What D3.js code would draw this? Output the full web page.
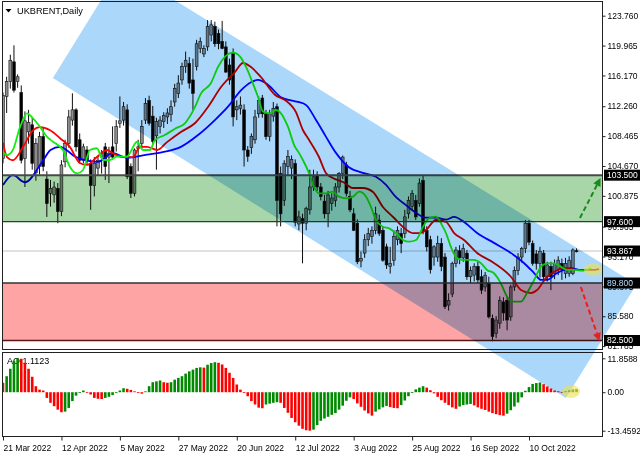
<!DOCTYPE html>
<html><head><meta charset="utf-8">
<script src="https://cdn.jsdelivr.net/npm/d3@7"></script>
<style>
body{margin:0;background:#fff}
svg{display:block}
text{font-family:"Liberation Sans",Arial,sans-serif}
</style>
</head><body>
<svg id="c" width="640" height="457"></svg>
<script>
// ---------------- DATA ----------------
const open  = [105.6,113.5,115.4,117.9,115.4,114.0,105.6,109.0,109.9,103.8,104.6,108.4,103.0,101.2,101.0,101.8,98.9,105.2,107.5,110.5,111.8,108.0,105.4,106.7,105.0,102.2,104.4,105.8,107.1,105.8,107.1,107.5,110.1,110.5,111.8,104.6,101.2,106.9,107.5,110.5,113.0,111.0,108.5,109.7,110.3,110.9,111.2,112.8,113.9,115.6,117.3,117.7,115.6,117.3,119.6,118.9,119.8,121.3,122.4,121.5,120.5,119.8,117.5,119.0,111.8,112.0,111.8,106.7,107.0,108.0,111.3,113.3,111.3,108.4,111.0,112.2,103.7,100.3,104.6,104.4,105.0,97.3,98.0,97.4,99.1,102.0,103.5,102.0,100.2,98.6,99.9,100.3,102.0,103.7,104.8,100.8,98.6,97.4,92.6,93.6,95.3,95.7,96.5,97.8,96.5,94.4,91.9,92.7,95.3,96.1,96.1,98.6,99.5,100.3,99.9,102.8,96.5,95.3,93.1,93.1,94.8,93.1,87.0,88.4,92.3,93.9,93.0,93.6,90.6,90.8,91.9,90.6,89.3,89.8,85.3,83.4,84.7,87.4,87.6,85.5,89.3,91.4,93.1,94.2,97.4,94.8,93.5,92.3,93.6,90.6,91.9,91.0,91.5,92.3,91.0,91.0,91.0,93.9];
const high  = [114.0,116.0,118.8,120.0,116.3,114.9,111.6,111.8,110.8,108.2,109.0,109.5,104.0,102.9,102.7,102.5,105.4,108.0,111.8,113.9,112.0,108.8,107.5,107.2,105.5,105.8,106.0,106.7,107.6,107.1,109.7,110.5,113.5,112.8,112.5,105.0,106.9,108.0,110.5,113.3,113.6,112.3,110.8,111.0,111.5,112.0,113.0,115.1,116.2,117.8,119.2,118.5,118.3,120.7,121.0,120.0,123.2,123.2,123.0,122.0,123.1,120.5,118.3,119.6,113.0,113.5,112.5,107.2,108.8,111.8,113.5,113.7,111.8,111.8,112.8,112.6,104.6,105.4,106.7,106.0,105.5,99.0,98.6,99.5,104.2,104.2,104.0,102.5,101.0,101.5,101.2,102.5,103.9,106.0,105.2,101.5,99.3,97.9,93.8,96.0,96.8,97.0,99.5,98.5,97.0,94.8,94.4,96.5,97.0,96.8,99.1,100.8,101.6,101.0,103.1,103.4,97.0,95.8,94.6,95.8,95.5,93.6,88.5,92.5,94.4,94.6,94.8,94.0,91.9,92.3,92.5,91.5,91.2,90.6,85.8,85.6,88.1,88.0,88.0,89.6,91.9,93.6,94.4,97.8,97.8,95.2,94.0,94.4,94.0,92.5,92.5,92.8,93.2,92.9,93.0,93.2,94.2,94.2];
const low   = [105.0,111.4,114.5,114.0,114.6,105.0,102.0,107.5,104.2,102.8,103.6,104.0,98.2,99.5,100.0,97.4,98.3,104.5,107.0,109.8,106.5,105.0,105.0,104.9,99.1,100.8,103.5,103.7,102.9,102.5,105.5,106.5,109.5,109.8,103.0,100.6,100.8,104.0,106.8,110.0,109.8,107.3,104.2,108.8,109.5,110.0,110.3,112.2,113.3,115.0,116.5,114.5,111.8,116.8,119.0,118.5,119.3,120.5,119.8,119.5,119.5,116.5,115.0,109.7,110.5,111.2,104.6,105.2,106.2,107.5,110.8,110.8,108.0,107.8,110.3,97.0,97.0,99.6,103.5,103.0,97.0,96.5,92.3,96.5,98.5,101.5,101.5,100.3,98.0,96.9,99.0,99.5,101.3,103.0,100.8,98.8,96.4,92.2,91.8,93.0,94.5,94.8,96.0,95.8,92.5,91.6,91.0,92.0,94.6,93.6,95.5,98.0,99.0,97.8,99.5,96.0,93.8,91.0,92.0,92.5,91.3,86.5,86.3,88.0,91.8,92.2,92.5,90.2,89.8,90.0,89.8,88.4,88.7,85.3,82.4,82.8,84.0,85.0,83.8,85.0,88.8,90.8,92.4,93.6,94.6,92.0,91.5,90.5,90.2,90.0,88.9,90.3,90.8,90.2,90.4,90.6,90.8,93.7];
const close = [113.6,115.4,118.1,114.3,116.0,105.4,110.4,110.2,105.0,107.5,108.4,104.6,99.9,101.8,102.0,98.9,104.8,107.5,110.9,111.8,107.1,105.4,107.1,105.4,102.2,105.0,105.4,106.3,104.6,106.3,105.8,109.7,110.4,112.2,103.3,101.2,106.7,107.1,109.7,112.6,110.1,107.8,110.3,110.5,111.1,111.4,112.2,114.5,115.2,117.3,118.1,115.2,113.9,120.2,120.5,119.6,122.4,122.6,120.2,120.2,119.6,116.6,115.6,110.9,112.2,112.4,106.7,105.9,108.4,110.9,113.0,111.3,108.4,111.3,112.0,100.3,98.6,105.0,105.9,105.5,97.5,98.2,97.4,99.3,102.0,103.3,102.0,100.8,98.6,101.0,100.6,102.0,103.7,105.8,101.2,99.1,96.5,92.5,92.9,95.3,96.1,96.5,98.6,96.1,92.7,92.1,92.3,95.7,96.5,94.8,98.2,100.3,101.2,98.2,102.5,96.5,94.4,91.5,94.4,94.8,91.9,86.8,87.6,92.3,94.0,93.0,94.2,90.6,91.4,91.9,90.2,88.9,90.8,85.5,83.0,85.1,87.6,86.0,85.1,89.3,91.4,93.1,94.2,97.4,95.0,92.3,92.3,93.8,90.6,92.1,90.6,92.3,92.7,91.5,92.3,92.7,94.0,93.867];

// Alligator lines: [bar index, price]
const jaw = [[0,102.25],[2.7,103.5],[6,102.6],[11,105.4],[13,106.7],[15.6,107.1],[20,105.8],[26,105.2],[30,106.3],[34,105.7],[39.4,106.1],[44,106.45],[48.7,107.1],[53.4,108.6],[58,110.5],[61.6,112.2],[65.2,114.3],[67.9,115.3],[69.8,115.6],[72.5,115.0],[76.1,113.4],[78.8,113.0],[80.8,112.8],[83,112.4],[85.7,110.5],[88.4,108.4],[91.2,106.3],[94.7,104.5],[98.5,103.8],[102.1,103.3],[104.8,102.3],[107.6,100.7],[110.3,99.7],[113.1,98.7],[115.8,98.1],[118.5,98.1],[121.3,97.85],[123.5,98.2],[126.2,97.55],[129.8,96.15],[134.4,94.9],[139.1,93.6],[142.6,92.35],[145.4,91.07],[147.3,90.19],[148.9,90.19],[151.7,91.07],[155.5,91.7],[158.2,91.46],[159,91.46]];
const teeth = [[0,107.6],[1.1,105.8],[2.7,105.4],[5.5,107.1],[8.2,109.2],[10.1,109.6],[12.9,109.2],[15.6,108.2],[18.3,107.1],[21,105.05],[23,104.8],[25.7,105.8],[28.5,106.7],[30,106.3],[32.8,105.8],[35.6,105.8],[37.5,107.1],[39.4,107.1],[42.2,106.7],[44.9,107.7],[48.7,108.99],[52.6,110.13],[56.1,112.16],[59.7,114.7],[63.5,116.6],[65.7,117.75],[67.9,117.24],[70.6,115.97],[74.5,113.69],[77.2,113.05],[80.2,111.5],[82.1,109.24],[83.8,107.97],[86.5,105.81],[88.4,103.78],[90.3,103.14],[93.1,102.63],[95.8,101.87],[98.5,101.87],[101.3,101.36],[104,99.46],[106.8,98.19],[109.5,96.92],[112.2,96.15],[113.9,96.15],[115.8,96.54],[118.5,97.81],[121.3,97.55],[123.5,96.15],[126.2,95.27],[129.8,93.62],[134.4,92.35],[139.1,90.57],[141.8,88.92],[144.5,88.53],[146.2,88.92],[148.9,90.57],[150.8,91.2],[153.6,91.71],[157.1,91.46],[161,91.46],[163.2,91.58]];
const lips = [[0,106.4],[1.1,106.06],[2.7,106.7],[4.7,109.66],[6.6,111.36],[8.2,110.72],[10.1,109.66],[12,108.4],[13.7,107.75],[16.4,106.7],[18.3,104.58],[20.3,103.74],[21.9,104.16],[23.8,106.7],[25.7,106.92],[27.4,105.43],[29.3,105.43],[31.2,105.85],[33.9,105.85],[36.7,107.75],[38.3,106.7],[40.2,106.7],[41.6,107.97],[44.3,108.6],[47.1,109.4],[49.8,110.09],[52.6,112.2],[54.2,113.9],[56.9,115.17],[58.9,117.28],[60.8,118.55],[63,119.06],[64.9,118.55],[66.5,117.28],[68.4,115.17],[69.8,113.47],[71.2,111.56],[73.1,111.36],[74.7,111.78],[76.1,111.36],[78,109.66],[79.9,107.12],[80.8,106.49],[82.1,105.43],[83.8,103.74],[85.1,102.04],[86.5,101.2],[88.4,101.2],[90.3,101.4],[92,100.77],[93.9,100.56],[95.8,100.77],[97.5,101.4],[99.4,100.77],[100.7,99.5],[102.1,97.81],[104,96.96],[105.7,96.75],[107.6,96.12],[109.5,95.27],[111.1,95.05],[113.1,95.27],[115,96.96],[116.6,98.02],[118.5,98.23],[120.4,96.96],[121.3,96.12],[122.6,94.42],[124.3,92.94],[126.2,92.73],[128.9,92.73],[130.9,92.3],[132.5,91.46],[134.4,91.04],[136.3,89.76],[138,88.07],[139.9,87.43],[141.8,87.43],[143.4,88.49],[145.4,90.19],[147.3,91.88],[148.9,92.3],[150.8,92.3],[152.7,91.88],[154.4,91.46],[156.3,91.46],[159,91.37],[161,91.67]];

// Awesome Oscillator values, one per bar
const ao = [3.3,5.6,8.2,11.0,11.86,11.7,10.3,8.2,5.4,2.1,0.9,0.6,-2.0,-3.7,-4.9,-6.1,-7.0,-6.8,-5.5,-3.1,-1.2,-0.2,0.6,0.1,-0.8,-2.0,-2.3,-2.4,-2.0,-1.6,-1.0,-0.3,0.6,1.4,1.2,0.8,0.3,-0.2,-0.5,0.3,2.1,3.5,3.8,4.1,3.5,3.3,3.5,4.4,5.0,5.6,6.5,7.3,7.9,8.5,8.7,8.6,9.6,10.2,10.5,10.3,9.7,8.5,6.8,5.0,2.7,0.9,-0.2,-1.4,-3.1,-4.3,-5.4,-5.6,-4.3,-4.0,-3.7,-3.5,-3.7,-5.5,-7.2,-9.0,-10.5,-11.7,-12.8,-13.3,-13.46,-13.1,-11.5,-10.0,-9.2,-8.6,-7.9,-7.3,-6.1,-4.7,-3.0,-1.8,-2.4,-3.9,-5.1,-6.4,-7.4,-8.2,-6.8,-6.0,-5.3,-4.8,-5.2,-5.5,-5.6,-4.5,-2.9,-1.4,-0.3,1.0,1.6,2.1,1.6,0.7,-0.4,-1.6,-2.8,-3.7,-4.5,-5.3,-5.8,-5.0,-4.5,-4.3,-4.1,-4.6,-5.3,-5.8,-6.2,-6.8,-7.3,-7.7,-8.0,-8.2,-7.5,-6.3,-5.0,-3.6,-1.8,0.5,1.8,2.9,3.2,3.4,2.8,2.0,1.3,0.6,0.3,0.1,0.4,0.7,1.0,1.1123];

const priceTicks = [123.760,119.965,116.170,112.260,108.465,104.670,100.875,96.965,93.170,89.375,85.580,81.785];
const aoTicks = [11.8588,0,-13.4592];
const dateTicks = [0,16,32,48,64,80,96,112,128,144];
const dateLabels = ["21 Mar 2022","12 Apr 2022","5 May 2022","27 May 2022","20 Jun 2022","12 Jul 2022","3 Aug 2022","25 Aug 2022","16 Sep 2022","10 Oct 2022"];
const greenZone = [97.6,103.5];
const redZone = [82.5,89.8];
const lastPrice = 93.867;
const levelLabels = [103.5,97.6,93.867,89.8,82.5];
const channel = [[13.66,115.85],[154.1,75.2],[173.4,89.6],[32.4,129.9]];
const upArrow = [[157.95,98.06],[163.6,103.14]];
const downArrow = [[158.2,89.3],[163.3,82.43]];
const mainMark = [161.5,91.5];
const aoMark = [155.5,0.25];
const aoCurrent = 1.1123;

// ---------------- LAYOUT ----------------
const L=2.5, R=602.5, mTop=1.5, mBot=349.5, aTop=352.5, aBot=436.5;
const svg = d3.select("#c");
const x  = d3.scaleLinear().domain([0,144]).range([3,529]);
const y  = d3.scaleLinear().domain([82.5,123.76]).range([340.5,15.7]);
const ya = d3.scaleLinear().domain([-13.4592,11.8588]).range([430.7,358.3]);

svg.append("rect").attr("width",640).attr("height",457).attr("fill","#fff");
const defs = svg.append("defs");
defs.append("clipPath").attr("id","mclip").append("rect").attr("x",L).attr("y",mTop).attr("width",R-L).attr("height",mBot-mTop);
defs.append("clipPath").attr("id","aclip").append("rect").attr("x",L).attr("y",aTop).attr("width",R-L).attr("height",aBot-aTop);

const main = svg.append("g").attr("clip-path","url(#mclip)");

// last price line
main.append("line").attr("x1",L).attr("x2",R).attr("y1",y(lastPrice)).attr("y2",y(lastPrice))
  .attr("stroke","#c4c4c4").attr("stroke-width",1);

// candles
const idx = d3.range(close.length);
const bw = 2.8;
main.append("g").selectAll("line").data(idx).join("line")
  .attr("x1",i=>x(i)).attr("x2",i=>x(i)).attr("y1",i=>y(high[i])).attr("y2",i=>y(low[i]))
  .attr("stroke","#111").attr("stroke-width",1);
main.append("g").selectAll("rect").data(idx).join("rect")
  .attr("x",i=>x(i)-bw/2).attr("width",bw)
  .attr("y",i=>y(Math.max(open[i],close[i])))
  .attr("height",i=>Math.max(1,Math.abs(y(open[i])-y(close[i]))))
  .attr("fill",i=>close[i]>=open[i]?"#8e8e8e":"#000")
  .attr("stroke","#111").attr("stroke-width",0.6);

// alligator
const line = d3.line().x(d=>x(d[0])).y(d=>y(d[1])).curve(d3.curveMonotoneX);
main.append("path").attr("d",line(jaw)).attr("fill","none").attr("stroke","#0000ff").attr("stroke-width",1.8);
main.append("path").attr("d",line(teeth)).attr("fill","none").attr("stroke","#ff0000").attr("stroke-width",1.8);
main.append("path").attr("d",line(lips)).attr("fill","none").attr("stroke","#10f010").attr("stroke-width",1.8);

// zones
main.append("rect").attr("x",L).attr("width",R-L).attr("y",y(greenZone[1])).attr("height",y(greenZone[0])-y(greenZone[1]))
  .attr("fill","#a8d6a8").style("mix-blend-mode","multiply");
main.append("rect").attr("x",L).attr("width",R-L).attr("y",y(redZone[1])).attr("height",y(redZone[0])-y(redZone[1]))
  .attr("fill","#ffa4a4").style("mix-blend-mode","multiply");
const hl = (p,c,w)=>main.append("line").attr("x1",L).attr("x2",R).attr("y1",y(p)).attr("y2",y(p)).attr("stroke",c).attr("stroke-width",w);
hl(greenZone[1],"#4a4a4a",2); hl(greenZone[0],"#1d4a1d",1.2);
hl(redZone[1],"#333",1.5); hl(redZone[0],"#5a1515",1.5);

// AO panel
const aog = svg.append("g").attr("clip-path","url(#aclip)");
aog.append("text").attr("x",7).attr("y",364).attr("font-size",9).attr("fill","#000").text("AO " + aoCurrent.toFixed(4));
aog.append("g").selectAll("rect").data(idx).join("rect")
  .attr("x",i=>x(i)-1.3).attr("width",2.6)
  .attr("y",i=>Math.min(ya(ao[i]),ya(0))).attr("height",i=>Math.max(0.8,Math.abs(ya(ao[i])-ya(0))))
  .attr("fill",i=>(i>0 && ao[i]>ao[i-1])?"#008a00":"#ff0000");

// frames
svg.append("rect").attr("x",L).attr("y",mTop).attr("width",R-L).attr("height",mBot-mTop).attr("fill","none").attr("stroke","#222").attr("stroke-width",1);
svg.append("rect").attr("x",L).attr("y",aTop).attr("width",R-L).attr("height",aBot-aTop).attr("fill","none").attr("stroke","#222").attr("stroke-width",1);

// axes
function styleAxis(g){ g.select(".domain").remove(); g.selectAll("text").attr("font-size",8.5).attr("fill","#000").style("font-family","Liberation Sans, Arial, sans-serif"); g.selectAll("line").attr("stroke","#222"); }
svg.append("g").attr("transform",`translate(${R},0)`)
  .call(d3.axisRight(y).tickValues(priceTicks).tickSize(3).tickPadding(2).tickFormat(d3.format(".3f"))).call(styleAxis);
svg.append("g").attr("transform",`translate(${R},0)`)
  .call(d3.axisRight(ya).tickValues(aoTicks).tickSize(3).tickPadding(2).tickFormat(d=>d===0?"0.00":d.toFixed(4))).call(styleAxis);
const xa = svg.append("g").attr("transform",`translate(0,${aBot})`)
  .call(d3.axisBottom(x).tickValues(dateTicks).tickSize(4).tickPadding(4).tickFormat((d,i)=>dateLabels[i])).call(styleAxis);
xa.selectAll("text").attr("text-anchor","start");

// level labels
const lv = svg.append("g");
levelLabels.forEach(p=>{
  lv.append("rect").attr("x",R+1.5).attr("y",y(p)-5.5).attr("width",640-R).attr("height",11).attr("fill","#000");
  lv.append("text").attr("x",R+4.5).attr("y",y(p)).attr("dy","0.34em").attr("font-size",8.5).attr("fill","#fff").text(p.toFixed(3));
});

// title
svg.append("path").attr("d","M5.5,9 L11.5,9 L8.5,12.5 Z").attr("fill","#000");
svg.append("text").attr("x",17).attr("y",13.5).attr("font-size",9.2).attr("fill","#000").text("UKBRENT,Daily");

// channel (drawn over everything)
svg.append("polygon").attr("points",channel.map(d=>[x(d[0]),y(d[1])].join(",")).join(" "))
  .attr("fill","#aad7fa").style("mix-blend-mode","multiply");

// highlight ellipses
svg.append("ellipse").attr("cx",x(mainMark[0])).attr("cy",y(mainMark[1])).attr("rx",9).attr("ry",6.5).attr("fill","#eee050").attr("opacity",0.6);
svg.append("ellipse").attr("cx",x(aoMark[0])).attr("cy",ya(aoMark[1])).attr("rx",9).attr("ry",6.5).attr("fill","#eee050").attr("opacity",0.6);

// arrows
function arrow(a,col){
  const x1=x(a[0][0]),y1=y(a[0][1]),x2=x(a[1][0]),y2=y(a[1][1]);
  const ang=Math.atan2(y2-y1,x2-x1), hlen=8, hw=4;
  const bx=x2-hlen*Math.cos(ang), by=y2-hlen*Math.sin(ang);
  svg.append("line").attr("x1",x1).attr("y1",y1).attr("x2",bx).attr("y2",by).attr("stroke",col).attr("stroke-width",2).attr("stroke-dasharray","5,3");
  const px=-Math.sin(ang)*hw, py=Math.cos(ang)*hw;
  svg.append("polygon").attr("points",`${x2},${y2} ${bx+px},${by+py} ${bx-px},${by-py}`).attr("fill",col);
}
arrow(upArrow,"#1a8a1a");
arrow(downArrow,"#ee1c1c");
</script>
</body></html>
